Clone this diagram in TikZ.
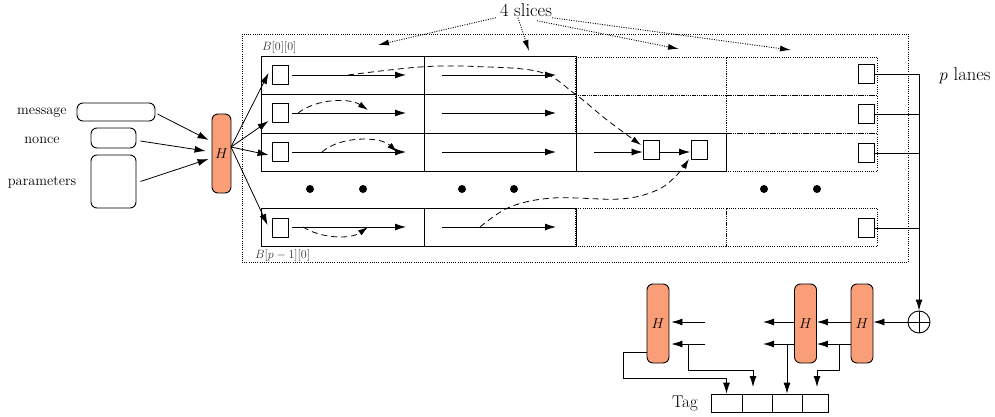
\documentclass[tikz,border=0pt]{standalone}
\usetikzlibrary{arrows.meta}
\definecolor{hfill}{RGB}{250,158,120}
\begin{document}
\begin{tikzpicture}[x=1pt,y=-1pt,
  cellbox/.style={draw,line width=1pt,inner sep=0pt,minimum height=38pt},
  dotcell/.style={draw,line width=0.7pt,dash pattern=on 0.7pt off 1.5pt,inner sep=0pt,minimum height=38pt},
  sbox/.style={draw,line width=0.9pt,inner sep=0pt,minimum width=16pt,minimum height=19pt},
  hbox/.style={draw,line width=0.9pt,fill=hfill,rounded corners=6pt,inner sep=0pt,minimum width=22pt,minimum height=79pt,font=\fontsize{14}{16}\selectfont},
  inbox/.style={draw,line width=0.9pt,rounded corners=6pt,inner sep=0pt},
  lbl/.style={font=\fontsize{14.4}{17}\selectfont,inner sep=0pt},
  biglbl/.style={font=\fontsize{18.6}{22}\selectfont,inner sep=2pt},
  smalllbl/.style={font=\fontsize{12}{14}\selectfont,inner sep=0pt,text=black!80},
  arr/.style={line width=0.8pt,-{Latex[length=11pt,width=7pt]}},
  dsh/.style={line width=0.8pt,dash pattern=on 6pt off 4pt,-{Latex[length=10pt,width=6pt]}},
  dotarr/.style={line width=0.9pt,dash pattern=on 1pt off 1.4pt,-{Latex[length=11pt,width=6pt]}},
  dotl/.style={line width=0.7pt,dash pattern=on 0.7pt off 1.5pt},
  tagbox/.style={draw,line width=0.8pt,inner sep=0pt,minimum height=18pt},
  dotfill/.style={fill=black,circle,inner sep=0pt,minimum size=8pt}
]
\useasboundingbox (0,0) rectangle (995,417);

% outer dotted frame
\node[draw,dotl,inner sep=0pt,minimum width=666pt,minimum height=228pt] (frame) at (575,148) {};

% dotted cells (drawn first)
\node[dotcell,minimum width=151pt] (d13) at (651,76) {};
\node[dotcell,minimum width=151pt] (d14) at (801.5,76) {};
\node[dotcell,minimum width=151pt] (d23) at (651,114) {};
\node[dotcell,minimum width=151pt] (d24) at (801.5,114) {};
\node[dotcell,minimum width=151pt] (d34) at (801.5,152) {};
\node[dotcell,minimum width=151pt] (d53) at (651,227) {};
\node[dotcell,minimum width=151pt] (d54) at (801.5,227) {};

% solid cells
\node[cellbox,minimum width=163pt] (c11) at (342.5,76) {};
\node[cellbox,minimum width=152pt] (c12) at (500,76) {};
\node[cellbox,minimum width=163pt] (c21) at (342.5,114) {};
\node[cellbox,minimum width=152pt] (c22) at (500,114) {};
\node[cellbox,minimum width=163pt] (c31) at (342.5,152) {};
\node[cellbox,minimum width=152pt] (c32) at (500,152) {};
\node[cellbox,minimum width=150pt] (c33) at (651,152) {};
\node[cellbox,minimum width=163pt] (c51) at (342.5,227) {};
\node[cellbox,minimum width=152pt] (c52) at (500,227) {};

% labels of blocks
\node[smalllbl,anchor=west] (b00) at (262,48) {$B[0][0]$};
\node[smalllbl,anchor=west] (bp0) at (255,255) {$B[p-1][0]$};

% small boxes
\node[sbox] (s1) at (280,75) {};
\node[sbox] (s2) at (280,113) {};
\node[sbox] (s3) at (280,152) {};
\node[sbox] (s5) at (280,228) {};
\node[sbox] (q1) at (651,150) {};
\node[sbox] (q2) at (699.5,150) {};
\node[sbox] (e1) at (866,74) {};
\node[sbox] (e2) at (866,114) {};
\node[sbox] (e3) at (866,153) {};
\node[sbox] (e5) at (866,228) {};

% row arrows
\coordinate (t11) at (406,75);
\coordinate (a12) at (442,75);
\coordinate (t12) at (556,75);
\coordinate (t21) at (406,113);
\coordinate (a22) at (442,113);
\coordinate (t22) at (556,113);
\coordinate (t31) at (406,152);
\coordinate (a32) at (442,152);
\coordinate (t32) at (556,152);
\coordinate (a33) at (594,152);
\coordinate (t51) at (406,227);
\coordinate (a52) at (442,227);
\coordinate (t52) at (556,227);
\draw[arr] ([xshift=4pt]s1.east) -- (t11);
\draw[arr] (a12) -- (t12);
\draw[arr] ([xshift=4pt]s2.east) -- (t21);
\draw[arr] (a22) -- (t22);
\draw[arr] ([xshift=4pt]s3.east) -- (t31);
\draw[arr] (a32) -- (t32);
\draw[arr] (a33) -- (a33 -| q1.west);
\draw[arr,shorten >=1pt] (q1.east |- a33) -- (q2.west |- a33);
\draw[arr] ([xshift=4pt,yshift=1pt]s5.east) -- (t51);
\draw[arr] (a52) -- (t52);

% dashed dependencies
\draw[dsh] plot[smooth,tension=0.6] coordinates {(348,75) (420,67) (475,66.5) (540,72) (575,94) (607,120) (641,145)};
\draw[dsh] (298,113) .. controls (318,98) and (350,98) .. (368,110);
\draw[dsh] (322,152) .. controls (340,136) and (380,136) .. (397,152);
\draw[dsh] (303,227) .. controls (320,238) and (350,240) .. (368,227);
\draw[dsh] plot[smooth,tension=0.6] coordinates {(480,227) (510,207) (553,198) (620,199) (655,191) (675,177) (689,159)};

% ellipsis dots
\node[dotfill] (o1) at (310,189) {};
\node[dotfill] (o2) at (363,189) {};
\node[dotfill] (o3) at (462,189) {};
\node[dotfill] (o4) at (514,189) {};
\node[dotfill] (o5) at (764,189) {};
\node[dotfill] (o6) at (817,189) {};

% 4 slices
\node[biglbl] (sl) at (526,10) {4 slices};
\coordinate (sl1) at (378,45);
\coordinate (sl2) at (529,51);
\coordinate (sl3) at (679,49);
\coordinate (sl4) at (791,50);
\draw[dotarr] ([xshift=-2pt,yshift=1pt]sl.south west) -- (sl1);
\draw[dotarr] ([xshift=-8pt,yshift=1pt]sl.south) -- (sl2);
\draw[dotarr] ([xshift=11pt,yshift=-2pt]sl.south) -- (sl3);
\draw[dotarr] ([xshift=-2pt,yshift=1pt]sl.south east) -- (sl4);

% inputs
\node[inbox,minimum width=78pt,minimum height=18pt] (msg) at (116,112) {};
\node[inbox,minimum width=45pt,minimum height=20pt] (non) at (113.5,138) {};
\node[inbox,minimum width=45pt,minimum height=53pt] (par) at (113.5,181.5) {};
\node[lbl] (lmsg) at (42,113) {message};
\node[lbl] (lnon) at (42,140) {nonce};
\node[lbl] (lpar) at (42,182) {parameters};

% left H
\node[hbox,minimum width=19pt] (Hl) at (221.5,153.5) {$H$};
\draw[arr] ([xshift=2pt,yshift=-2pt]msg.east) -- ([xshift=-3pt,yshift=13.5pt]Hl.west);
\draw[arr] ([xshift=4pt,yshift=-3pt]non.east) -- ([xshift=-6pt,yshift=2.5pt]Hl.west);
\draw[arr] ([xshift=4pt]par.east) -- ([xshift=-3pt,yshift=-5.5pt]Hl.west);
\coordinate (hs) at (231,147);
\draw[arr] (hs) -- ([xshift=-3pt,yshift=2pt]s1.west);
\draw[arr] (hs) -- ([xshift=-3pt,yshift=-8pt]s2.west);
\draw[arr] (hs) -- ([xshift=-3pt,yshift=-3pt]s3.west);
\draw[arr] (hs) -- ([xshift=-4pt,yshift=3pt]s5.west);

% p lanes and XOR
\node[biglbl] (pl) at (965,76) {$p$ lanes};
\node[draw,circle,line width=0.9pt,minimum size=22pt,inner sep=0pt] (xor) at (919,322) {};
\draw[line width=0.9pt] (xor.north) -- (xor.south) (xor.west) -- (xor.east);
\coordinate (xr) at (919,0);
\draw[line width=0.9pt] (e1.east) -- (e1.east -| xr);
\draw[line width=0.9pt] (e2.east) -- (e2.east -| xr);
\draw[line width=0.9pt] (e3.east) -- (e3.east -| xr);
\draw[line width=0.9pt] (e5.east) -- (e5.east -| xr);
\draw[arr,line width=0.9pt] (e1.east -| xr) -- (xor.north);

% bottom hash chain
\node[hbox] (H1) at (658,323.5) {$H$};
\node[hbox] (H2) at (805.5,323.5) {$H$};
\node[hbox] (H3) at (862,323.5) {$H$};
\coordinate (ya) at (0,322);
\coordinate (yb) at (0,344);
\coordinate (g1) at (763,322);
\coordinate (g2) at (705,322);
\coordinate (g3) at (763,344);
\coordinate (g4) at (705,344);
\draw[arr] (xor.west) -- (xor.west -| H3.east);
\draw[arr] (H3.west |- ya) -- (H2.east |- ya);
\draw[arr] (H2.west |- ya) -- (g1);
\draw[arr,shorten >=2pt] (g2) -- (H1.east |- ya);
\draw[arr] (H3.west |- yb) -- (H2.east |- yb);
\draw[arr] (H2.west |- yb) -- (g3);
\draw[arr,shorten >=2pt] (g4) -- (H1.east |- yb);

% tag
\node[tagbox,minimum width=31pt] (T1) at (726.5,403) {};
\node[tagbox,minimum width=30pt] (T2) at (757,403) {};
\node[tagbox,minimum width=30pt] (T3) at (787,403) {};
\node[tagbox,minimum width=26pt] (T4) at (815,403) {};
\node[font=\fontsize{17}{20}\selectfont,inner sep=0pt] (tag) at (685,403) {Tag};

\coordinate (b1) at (647,352);
\coordinate (k1) at (623,378);
\draw[arr] (b1) -| (k1) -| (T1.north);
\coordinate (m2) at (688,344);
\coordinate (k2) at (753,370);
\coordinate (n2) at (753,387);
\draw[arr] (m2) |- (k2) -- (n2);
\coordinate (m3) at (787,344);
\draw[arr] (m3) -- (T3.north);
\coordinate (m4) at (839,344);
\coordinate (k4) at (817,370);
\coordinate (n4) at (817,387);
\draw[arr] (m4) |- (k4) -- (n4);
\end{tikzpicture}
\end{document}
